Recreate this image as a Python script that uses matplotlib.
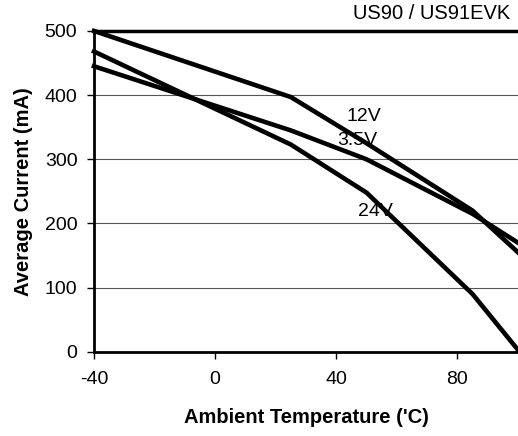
import matplotlib
matplotlib.use('Agg')
import matplotlib.pyplot as plt

plt.rcParams['font.family'] = ['Liberation Sans', 'DejaVu Sans']
plt.rcParams['axes.unicode_minus'] = False

# ambient temperature points (C)
temp = [-40, 25, 50, 85, 100]
# average current (mA) per supply voltage
i_12v = [500, 397, 325, 220, 155]
i_3v5 = [445, 345, 300, 215, 170]
i_24v = [468, 323, 248, 90, 3]

labels = [('12V', 49.2, 367), ('3.5V', 46.9, 329), ('24V', 52.8, 219)]

fig = plt.figure(figsize=(5.18, 4.36), dpi=100)
ax = fig.add_axes([0.1815, 0.193, 0.8185, 0.736])

for y in (i_12v, i_3v5, i_24v):
    ax.plot(temp, y, color='black', lw=3.3, solid_joinstyle='miter', clip_on=False, zorder=3)

for txt, x, y in labels:
    ax.text(x, y, txt, fontsize=14, ha='center', va='center', zorder=4)

ax.set_xlim(-40, 100)
ax.set_ylim(0, 500)
ax.set_xticks([-40, 0, 40, 80])
ax.set_yticks([0, 100, 200, 300, 400, 500])
ax.yaxis.grid(True, color='#555555', lw=0.8)
ax.set_axisbelow(True)
ax.tick_params(direction='out', length=5, width=1, labelsize=14)
ax.tick_params(axis='x', pad=9)
ax.tick_params(axis='y', pad=7)

ax.spines['right'].set_visible(False)
ax.spines['top'].set_linewidth(2.5)
ax.spines['left'].set_linewidth(2)
ax.spines['bottom'].set_linewidth(2)

ax.set_xlabel("Ambient Temperature ('C)", fontsize=14.5, fontweight='bold', labelpad=14)
ax.set_ylabel('Average Current (mA)', fontsize=14.5, fontweight='bold', labelpad=8)

fig.text(0.985, 0.97, 'US90 / US91EVK', fontsize=14.5, ha='right', va='center')

fig.savefig('out.png', dpi=100)
